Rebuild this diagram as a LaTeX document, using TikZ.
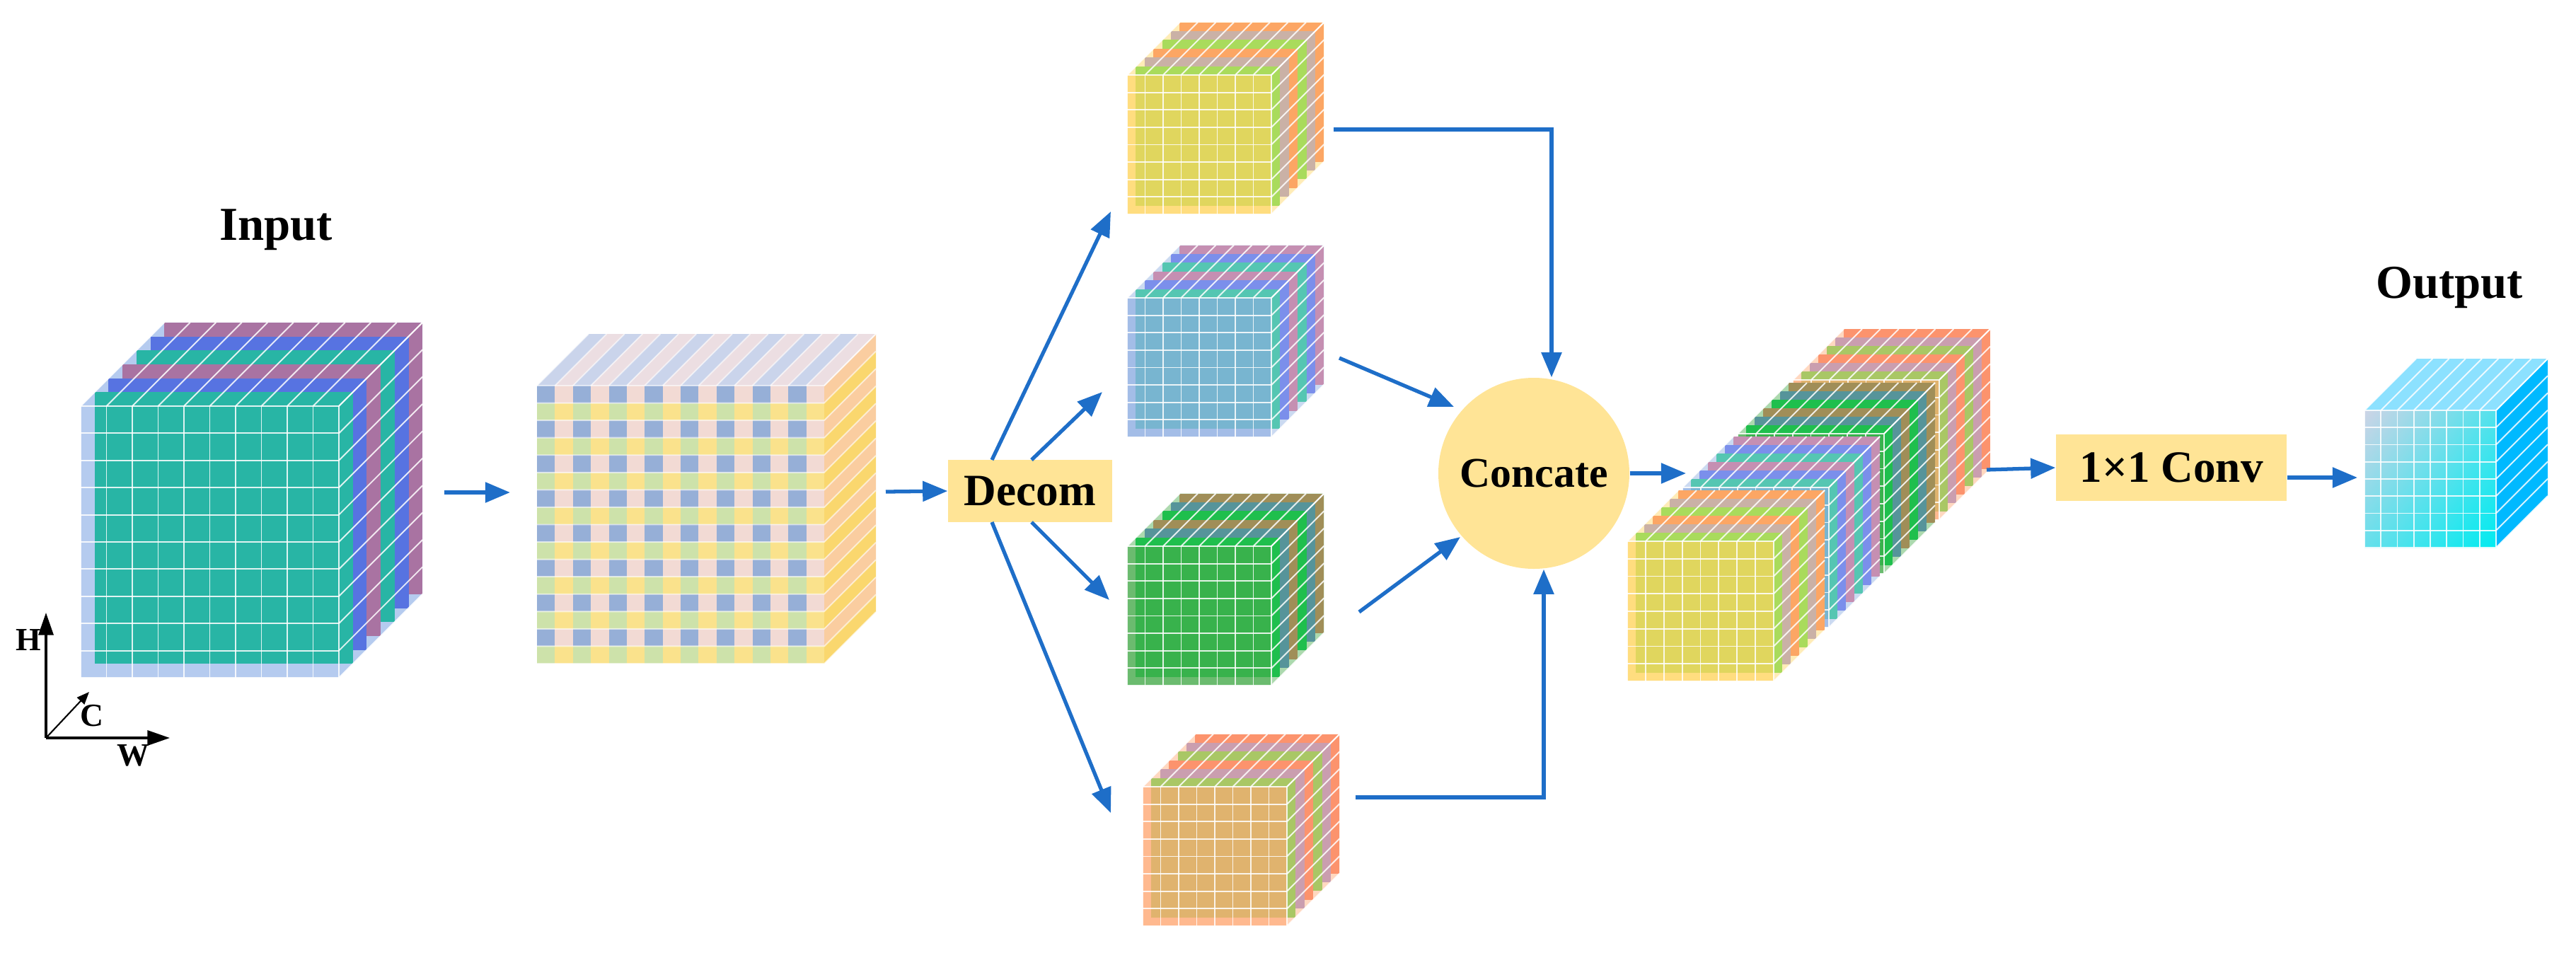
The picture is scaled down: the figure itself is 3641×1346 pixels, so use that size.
\documentclass[tikz,border=0pt]{standalone}
\usepackage{fontspec}
\setmainfont{Liberation Serif}
\usetikzlibrary{arrows.meta,shadings}
\definecolor{arr}{RGB}{30,110,200}
\definecolor{lab}{RGB}{255,228,150}
% input
\definecolor{iR}{RGB}{235,95,115}\definecolor{iB}{RGB}{85,95,230}\definecolor{iG}{RGB}{0,215,120}\definecolor{iBox}{RGB}{90,140,220}
% cube colours
\definecolor{cR}{RGB}{250,130,105}\definecolor{cP}{RGB}{160,150,225}\definecolor{cG}{RGB}{100,225,90}
\definecolor{bR}{RGB}{245,120,140}\definecolor{bB}{RGB}{110,120,245}\definecolor{bG}{RGB}{40,220,140}
\definecolor{gR}{RGB}{235,120,100}\definecolor{gB}{RGB}{100,130,220}\definecolor{gG}{RGB}{0,210,80}
\definecolor{yBox}{RGB}{255,212,95}\definecolor{bBox}{RGB}{140,172,225}\definecolor{gBox}{RGB}{70,170,75}\definecolor{oBox}{RGB}{255,168,115}
% checker
\definecolor{kB}{RGB}{150,175,215}\definecolor{kP}{RGB}{242,218,212}\definecolor{kY}{RGB}{250,226,140}\definecolor{kG}{RGB}{205,226,170}
\definecolor{kT1}{RGB}{202,212,235}\definecolor{kT2}{RGB}{236,222,226}\definecolor{kS1}{RGB}{250,205,160}\definecolor{kS2}{RGB}{250,215,110}
% output
\definecolor{oTL}{RGB}{205,212,230}\definecolor{oBR}{RGB}{0,235,240}\definecolor{oTop}{RGB}{140,225,255}\definecolor{oSide}{RGB}{0,185,255}
\tikzset{gridl/.style={white,line width=0.55pt,opacity=.85},
  conn/.style={arr,line width=1.5pt,-{Triangle[length=10pt,width=8pt]}},
  lbox/.style={fill=lab,font=\bfseries\fontsize{18}{20}\selectfont,inner sep=0pt},
  ttl/.style={font=\bfseries\fontsize{19}{22}\selectfont}}
\def\fop{.8}
\newcommand\stackbox[9]{%
 \begin{scope}[shift={(#1,#2)}]
 \def\W{#3}\def\H{#4}\def\S{#5}
 \pgfmathsetmacro\D{6*\S}
 \foreach \c [count=\i] in {#6}{
   \pgfmathsetmacro\k{7-\i}
   \fill[\c] (\k*\S,-\k*\S) rectangle ++(\W,\H);
 }
 \fill[#7,opacity=.45] (0,0) -- (\D,-\D) -- (\W+\D,-\D) -- (\W,0) -- cycle;
 \fill[#7,opacity=.45] (\W,0) -- (\W+\D,-\D) -- (\W+\D,\H-\D) -- (\W,\H) -- cycle;
 \fill[#7,opacity=\fop] (0,0) rectangle (\W,\H);
 \foreach \i in {0,...,#8}{\draw[gridl] (\i*\W/#8,0) -- (\i*\W/#8,\H); \draw[gridl] (\i*\W/#8,0) -- ++(\D,-\D);}
 \foreach \j in {0,...,#9}{\draw[gridl] (0,\j*\H/#9) -- (\W,\j*\H/#9); \draw[gridl] (\W,\j*\H/#9) -- ++(\D,-\D);}
 \end{scope}}
\begin{document}
\begin{tikzpicture}[x=0.1mm,y=-0.1mm]
\useasboundingbox (0,0) rectangle (3641,1346);
% ---------- input ----------
\node[ttl] (tin) at (390,325) {Input};
\def\fop{.45}
\stackbox{114}{574}{365}{384}{19.7}{iR,iB,iG,iR,iB,iG}{iBox}{10}{10}
\def\fop{.8}
\coordinate (inR) at (628,696);
% axes
\coordinate (ax0) at (65,1043);
\coordinate (axH) at (65,866);
\coordinate (axW) at (240,1043);
\coordinate (axC) at (126,978);
\draw[line width=0.9pt,-{Triangle[length=9pt,width=6pt]}] (ax0) -- (axH);
\draw[line width=0.9pt,-{Triangle[length=9pt,width=6pt]}] (ax0) -- (axW);
\draw[line width=0.6pt,-{Triangle[length=5pt,width=4pt]}] (ax0) -- (axC);
\node[font=\bfseries\fontsize{13}{14}\selectfont] (lH) at (40,905) {H};
\node[font=\bfseries\fontsize{13}{14}\selectfont] (lC) at (130,1012) {C};
\node[font=\bfseries\fontsize{13}{14}\selectfont] (lW) at (188,1068) {W};
% ---------- checker cube ----------
\begin{scope}[shift={(759,545)}]
 \def\cw{25.375}\def\ch{24.56}\def\D{73}
 \foreach \i in {0,...,15}{
   \pgfmathsetmacro\ev{int(mod(\i,2))}
   \ifnum\ev=0 \def\tc{kT1}\else\def\tc{kT2}\fi
   \fill[\tc] (\i*\cw,0) -- ++(\D,-\D) -- ++(\cw,0) -- ++(-\D,\D) -- cycle;
 }
 \foreach \j in {0,...,15}{
   \pgfmathsetmacro\ev{int(mod(\j,2))}
   \ifnum\ev=0 \def\sc{kS1}\else\def\sc{kS2}\fi
   \fill[\sc] (406,\j*\ch) -- ++(\D,-\D) -- ++(0,\ch) -- ++(-\D,\D) -- cycle;
   \foreach \i in {0,...,15}{
     \pgfmathsetmacro\ec{int(mod(\i,2))}
     \ifnum\ev=0 \ifnum\ec=0 \def\fc{kB}\else\def\fc{kP}\fi
     \else \ifnum\ec=0 \def\fc{kG}\else\def\fc{kY}\fi\fi
     \fill[\fc] (\i*\cw,\j*\ch) rectangle ++(\cw,\ch);
   }
 }
 \foreach \i in {0,...,16}{\draw[gridl,opacity=.6] (\i*\cw,0) -- ++(\D,-\D);}
 \foreach \j in {0,...,16}{\draw[gridl,opacity=.6] (0,\j*\ch) -- (406,\j*\ch) -- ++(\D,-\D);}
\end{scope}
\coordinate (ckL) at (721,696);
\coordinate (ckR) at (1252,695);
% ---------- decom ----------
\node[lbox,minimum width=232*0.1mm,minimum height=88*0.1mm] (decom) at (1456,694) {Decom};
% ---------- branch cubes ----------
\stackbox{1593}{106}{204}{197}{12.4}{cR,cP,cG,cR,cP,cG}{yBox}{8}{8}
\stackbox{1593}{421}{204}{197}{12.4}{bR,bB,bG,bR,bB,bG}{bBox}{8}{8}
\stackbox{1593}{772}{204}{197}{12.4}{gR,gB,gG,gR,gB,gG}{gBox}{8}{8}
\stackbox{1615}{1112}{204}{197}{12.4}{cR,cP,cG,cR,cP,cG}{oBox}{8}{8}
\coordinate (c1in) at (1570,299);
\coordinate (c2in) at (1558,554);
\coordinate (c3in) at (1568,848);
\coordinate (c4in) at (1570,1149);
\coordinate (d1) at (1402,650);
\coordinate (d2) at (1458,650);
\coordinate (d3) at (1458,738);
\coordinate (d4) at (1402,738);
\coordinate (c1out) at (1885,183);
\coordinate (c2out) at (1893,506);
\coordinate (c3out) at (1921,865);
\coordinate (c4out) at (1916,1127);
% ---------- concate ----------
\node[circle,fill=lab,minimum size=270*0.1mm,inner sep=0pt,font=\bfseries\fontsize{17}{20}\selectfont] (cat) at (2168,669) {Concate};
% ---------- concatenated stack ----------
\stackbox{2534}{537}{207}{198}{12}{cR,cP,cG,cR,cP,cG}{oBox}{8}{8}
\stackbox{2456}{613}{207}{198}{12}{gR,gB,gG,gR,gB,gG}{gBox}{8}{8}
\stackbox{2378}{689}{207}{198}{12}{bR,bB,bG,bR,bB,bG}{bBox}{8}{8}
\stackbox{2300}{765}{207}{198}{12}{cR,cP,cG,cR,cP,cG}{yBox}{8}{8}
\coordinate (stL) at (2383,669);
\coordinate (stR) at (2808,664);
% ---------- conv ----------
\node[lbox,minimum width=326*0.1mm,minimum height=94*0.1mm] (conv) at (3069,661) {1×1 Conv};
% ---------- output ----------
\node[ttl] (tout) at (3462,406) {Output};
\begin{scope}[shift={(3342,580)}]
 \def\W{186}\def\H{194}\def\D{73}
 \fill[oTop] (0,0) -- (\D,-\D) -- (\W+\D,-\D) -- (\W,0) -- cycle;
 \fill[oSide] (\W,0) -- (\W+\D,-\D) -- (\W+\D,\H-\D) -- (\W,\H) -- cycle;
 \shade[upper left=oTL,upper right=oTL!40!oBR,lower left=oTL!50!oBR,lower right=oBR] (0,0) rectangle (\W,\H);
 \foreach \i in {0,...,8}{\draw[gridl] (\i*\W/8,0) -- (\i*\W/8,\H); \draw[gridl] (\i*\W/8,0) -- ++(\D,-\D);}
 \foreach \j in {0,...,8}{\draw[gridl] (0,\j*\H/8) -- (\W,\j*\H/8); \draw[gridl] (\W,\j*\H/8) -- ++(\D,-\D);}
\end{scope}
\coordinate (outL) at (3332,675);
% ---------- connectors ----------
\draw[conn] (inR) -- (ckL);
\draw[conn] (ckR) -- (decom.west);
\draw[conn] (d1) -- (c1in);
\draw[conn] (d2) -- (c2in);
\draw[conn] (d3) -- (c3in);
\draw[conn] (d4) -- (c4in);
\draw[conn] (c1out) -| (cat.north -| 2193,0);
\draw[conn] (c2out) -- (2055,575);
\draw[conn] (c3out) -- (2064,759);
\draw[conn] (c4out) -| (cat.south -| 2182,0);
\draw[conn] (cat.east) -- (stL);
\draw[conn] (stR) -- (conv.west);
\draw[conn] (conv.east |- 0,675) -- (outL);
\end{tikzpicture}
\end{document}
